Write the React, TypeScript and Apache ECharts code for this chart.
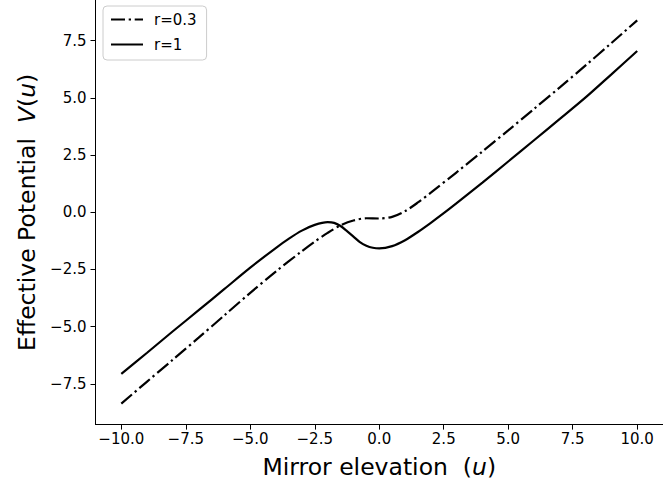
import React, { useEffect, useRef } from "react";
import * as echarts from "echarts";

// Mirror elevation u (x) and effective potential V(u)
const uR03: number[] = [-10, -9, -8, -7, -6, -5, -4, -3, -2.5, -2, -1.5, -1, -0.5, 0, 0.5, 1, 1.5, 2, 3, 4, 5, 6, 7, 8, 9, 10];
const vR03: number[] = [-8.36, -7.4, -6.44, -5.48, -4.5, -3.52, -2.58, -1.7, -1.28, -0.9, -0.57, -0.36, -0.26, -0.27, -0.2, 0.05, 0.43, 0.86, 1.75, 2.66, 3.58, 4.52, 5.46, 6.42, 7.4, 8.39];

const uR1: number[] = [-10, -9, -8, -7, -6, -5, -4, -3.5, -3, -2.5, -2, -1.75, -1.5, -1.25, -1, -0.75, -0.5, -0.25, 0, 0.5, 1, 1.5, 2, 2.5, 3, 4, 5, 6, 7, 8, 9, 10];
const vR1: number[] = [-7.06, -6.14, -5.2, -4.28, -3.35, -2.42, -1.55, -1.15, -0.8, -0.55, -0.43, -0.46, -0.6, -0.82, -1.06, -1.3, -1.46, -1.55, -1.58, -1.48, -1.22, -0.86, -0.46, -0.04, 0.4, 1.3, 2.22, 3.15, 4.08, 5.02, 6.03, 7.05];

const seriesNames: string[] = ["r=0.3", "r=1"];
const xTicks: number[] = [-10, -7.5, -5, -2.5, 0, 2.5, 5, 7.5, 10];
const yTicks: number[] = [-7.5, -5, -2.5, 0, 2.5, 5, 7.5];

const FONT = "DejaVu Sans";
const fmt = (v: number) => v.toFixed(1).replace("-", "\u2212");

export default function App() {
  const ref = useRef<HTMLDivElement>(null);
  useEffect(() => {
    if (!ref.current) return;
    const chart = echarts.init(ref.current, undefined, { renderer: "svg" });
    const pairs = (xs: number[], ys: number[]) => xs.map((x, i) => [x, ys[i]]);
    chart.setOption({
      animation: false,
      backgroundColor: "#ffffff",
      grid: { left: 95.5, top: -3.8, width: 572.5, height: 428.4, containLabel: false },
      legend: {
        data: seriesNames,
        orient: "vertical",
        left: 103,
        top: 6,
        itemWidth: 32,
        itemHeight: 14,
        itemGap: 10,
        padding: [6, 10, 8, 7],
        backgroundColor: "rgba(255,255,255,0.8)",
        borderColor: "#cccccc",
        borderWidth: 1,
        borderRadius: 4,
        itemStyle: { opacity: 0 },
        textStyle: { fontFamily: FONT, fontSize: 15, color: "#000", padding: [0, 0, 0, 6] },
      },
      xAxis: {
        type: "value",
        min: -11,
        max: 11,
        name: "Mirror elevation  ({i|u})",
        nameLocation: "middle",
        nameGap: 30,
        nameTextStyle: {
          fontFamily: FONT,
          fontSize: 23.5,
          color: "#000",
          rich: { i: { fontFamily: FONT, fontSize: 23.5, fontStyle: "italic", color: "#000" } },
        },
        axisLine: { onZero: false, lineStyle: { color: "#000", width: 1 } },
        axisTick: { inside: false, length: 5, customValues: xTicks, lineStyle: { color: "#000", width: 1 } },
        axisLabel: { customValues: xTicks, formatter: fmt, margin: 7, fontFamily: FONT, fontSize: 15, color: "#000" },
        splitLine: { show: false },
      },
      yAxis: {
        type: "value",
        min: -9.28,
        max: 9.28,
        name: "Effective Potential  {i|V}({i|u})",
        nameLocation: "middle",
        nameGap: 57,
        nameTextStyle: {
          fontFamily: FONT,
          fontSize: 23.5,
          color: "#000",
          rich: { i: { fontFamily: FONT, fontSize: 23.5, fontStyle: "italic", color: "#000" } },
        },
        axisLine: { show: true, onZero: false, lineStyle: { color: "#000", width: 1 } },
        axisTick: { show: true, inside: false, length: 5, customValues: yTicks, lineStyle: { color: "#000", width: 1 } },
        axisLabel: { customValues: yTicks, formatter: fmt, margin: 9, fontFamily: FONT, fontSize: 15, color: "#000" },
        splitLine: { show: false },
      },
      series: [
        {
          name: seriesNames[0],
          type: "line",
          data: pairs(uR03, vR03),
          smooth: 0.3,
          symbol: "none",
          lineStyle: { color: "#000", width: 2.2, type: [14, 3.7, 2.3, 3.7] },
          itemStyle: { color: "#000" },
        },
        {
          name: seriesNames[1],
          type: "line",
          data: pairs(uR1, vR1),
          smooth: 0.3,
          symbol: "none",
          lineStyle: { color: "#000", width: 2.2, type: "solid" },
          itemStyle: { color: "#000" },
        },
      ],
    });
    return () => chart.dispose();
  }, []);
  return (
    <div
      ref={ref}
      style={{ position: "fixed", left: 0, top: 0, width: 663, height: 487, background: "#fff" }}
    />
  );
}
